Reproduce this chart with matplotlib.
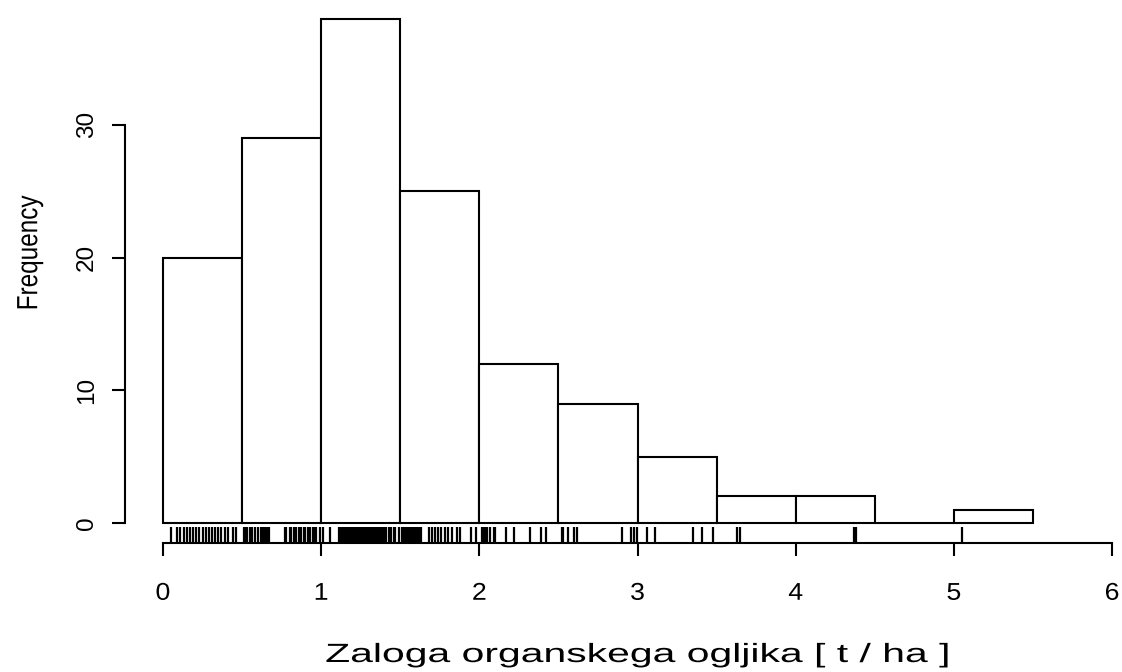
import numpy as np
import matplotlib
matplotlib.use("Agg")
import matplotlib.pyplot as plt
from matplotlib.patheffects import AbstractPathEffect
from matplotlib.transforms import Affine2D

plt.rcParams['font.family'] = ['Liberation Sans', 'DejaVu Sans']

# organic carbon stock per plot [t/ha], grouped by histogram bin
stock_00_05 = [0.05, 0.09, 0.11, 0.13, 0.15, 0.17, 0.19, 0.21, 0.23, 0.25,
               0.27, 0.29, 0.31, 0.33, 0.35, 0.37, 0.39, 0.41, 0.44, 0.46]
stock_05_10 = [0.51, 0.52, 0.53, 0.55, 0.56, 0.58, 0.60, 0.62, 0.63, 0.64,
               0.65, 0.66, 0.67, 0.77, 0.78, 0.80, 0.81, 0.83, 0.84, 0.86,
               0.87, 0.89, 0.90, 0.92, 0.93, 0.95, 0.96, 0.97, 0.99]
stock_10_15 = [1.01, 1.055, 1.11, 1.12, 1.13, 1.14, 1.15, 1.16, 1.17, 1.18,
               1.19, 1.20, 1.21, 1.22, 1.23, 1.24, 1.25, 1.26, 1.27, 1.28,
               1.29, 1.30, 1.31, 1.32, 1.33, 1.34, 1.35, 1.36, 1.37, 1.38,
               1.39, 1.40, 1.41, 1.43, 1.44, 1.46, 1.47, 1.49]
stock_15_20 = [1.51, 1.52, 1.53, 1.54, 1.55, 1.56, 1.57, 1.58, 1.59, 1.60,
               1.61, 1.62, 1.63, 1.68, 1.70, 1.72, 1.74, 1.76, 1.78, 1.80,
               1.83, 1.86, 1.88, 1.95, 1.98]
stock_20_25 = [2.02, 2.03, 2.04, 2.05, 2.07, 2.09, 2.10, 2.17, 2.22, 2.32,
               2.39, 2.42]
stock_25_30 = [2.52, 2.53, 2.56, 2.60, 2.62, 2.90, 2.96, 2.98, 2.995]
stock_30_35 = [3.06, 3.11, 3.35, 3.41, 3.48]
stock_35_40 = [3.63, 3.65]
stock_40_45 = [4.37, 4.38]
stock_50_55 = [5.05]

stock = np.array(stock_00_05 + stock_05_10 + stock_10_15 + stock_15_20 +
                 stock_20_25 + stock_25_30 + stock_30_35 + stock_35_40 +
                 stock_40_45 + stock_50_55)
breaks = np.arange(0, 5.51, 0.5)
x_ticks = [0, 1, 2, 3, 4, 5, 6]
y_ticks = [0, 10, 20, 30]


class WideText(AbstractPathEffect):
    """Draw text widened horizontally about its own middle."""

    def __init__(self, sx):
        super().__init__()
        self.sx = sx

    def draw_path(self, renderer, gc, tpath, affine, rgbFace=None):
        bb = tpath.get_extents(affine)
        cx = 0.5 * (bb.x0 + bb.x1)
        stretch = Affine2D().translate(-cx, 0).scale(self.sx, 1).translate(cx, 0)
        renderer.draw_path(gc, tpath, affine + stretch, rgbFace)


fig = plt.figure(figsize=(11.22, 6.72), dpi=100)
ax = fig.add_axes([125 / 1122, 128.8 / 672, 1025 / 1122, 544.6 / 672])

ax.hist(stock, bins=breaks, color='white', edgecolor='black', linewidth=1.5)

# rug along the bottom of the plot region
trans = ax.get_xaxis_transform()
for v in stock:
    ax.plot([v, v], [0, 0.03], transform=trans, color='black',
            linewidth=1.6, solid_capstyle='butt')

ax.set_xlim(-0.24, 6.24)
ax.set_ylim(-1.52, 39.52)

for side in ['top', 'right']:
    ax.spines[side].set_visible(False)
ax.spines['bottom'].set_bounds(0, 6)
ax.spines['left'].set_bounds(0, 30)
ax.spines['bottom'].set_linewidth(1.5)
ax.spines['left'].set_linewidth(1.5)

ax.set_xticks(x_ticks)
ax.set_yticks(y_ticks)
ax.tick_params(axis='both', direction='out', length=9.5, width=1.5,
               labelsize=17.5)
ax.tick_params(axis='x', pad=19)
ax.tick_params(axis='y', pad=10)
plt.setp(ax.get_yticklabels(), rotation=90, va='center')
plt.setp(ax.get_xticklabels(), path_effects=[WideText(1.1)])

fig.text(638 / 1122, 5 / 672, 'Zaloga organskega ogljika [ t / ha ]',
         ha='center', va='bottom', fontsize=19,
         path_effects=[WideText(1.55)])
fig.text(30 / 1122, 1 - 253 / 672, 'Frequency', rotation=90,
         ha='center', va='center', fontsize=17.5,
         path_effects=[WideText(1.2)])

fig.savefig('out.png', dpi=100)
